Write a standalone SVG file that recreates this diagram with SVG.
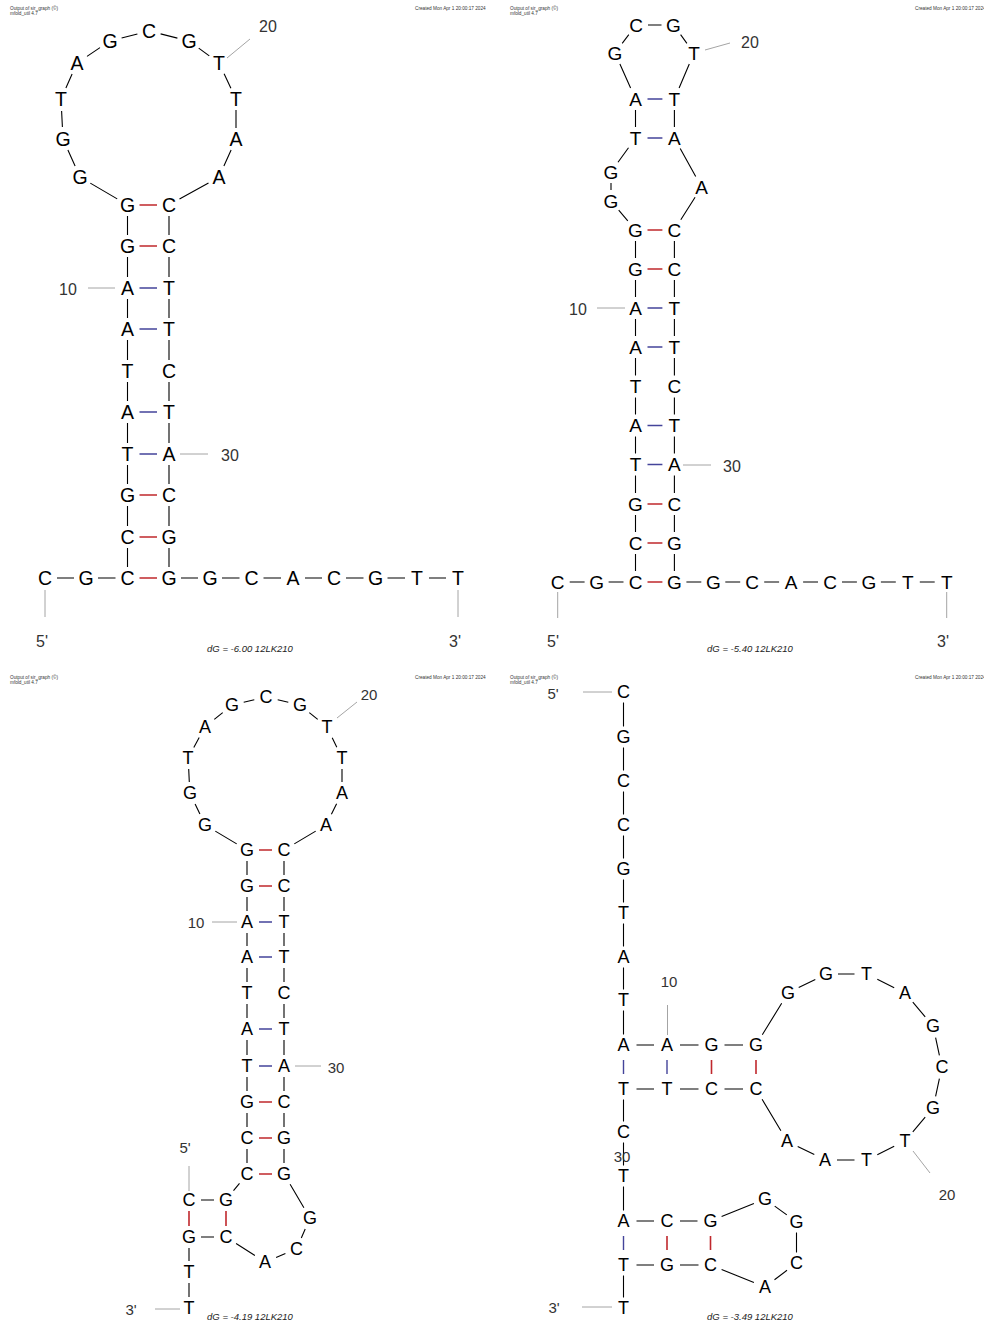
<svg xmlns="http://www.w3.org/2000/svg" width="984" height="1325" viewBox="0 0 984 1325">
<style>
.n{font-family:"Liberation Sans",Arial,sans-serif;text-anchor:middle;dominant-baseline:central;fill:#000}
.s1{font-size:19.5px}.s2{font-size:19px}.s3{font-size:18px}.s4{font-size:18px}
.bb{fill:none;stroke:#000;stroke-width:1.1}
.gc{fill:none;stroke:#c0282d;stroke-width:1.6}
.at{fill:none;stroke:#44449a;stroke-width:1.4}
.ll{stroke:#9a9a9a;stroke-width:0.9}
.lb{font-family:"Liberation Sans",Arial,sans-serif;font-size:16px;fill:#333;text-anchor:middle;dominant-baseline:central}
.lb4{font-size:15px}
.dg{font-family:"Liberation Sans",Arial,sans-serif;font-size:9.5px;font-style:italic;fill:#222;text-anchor:middle;dominant-baseline:central}
.hd{font-family:"Liberation Sans",Arial,sans-serif;font-size:4.7px;fill:#333}
</style>
<rect width="984" height="1325" fill="#fff"/>
<g id="headers">
<text class="hd" x="10" y="10">Output of sir_graph (©)</text><text class="hd" x="10" y="15">mfold_util 4.7</text><text class="hd" x="415" y="10">Created Mon Apr  1 20:00:17 2024</text>
<text class="hd" x="510" y="10">Output of sir_graph (©)</text><text class="hd" x="510" y="15">mfold_util 4.7</text><text class="hd" x="915" y="10">Created Mon Apr  1 20:00:17 2024</text>
<text class="hd" x="10" y="679">Output of sir_graph (©)</text><text class="hd" x="10" y="684">mfold_util 4.7</text><text class="hd" x="415" y="679">Created Mon Apr  1 20:00:17 2024</text>
<text class="hd" x="510" y="679">Output of sir_graph (©)</text><text class="hd" x="510" y="684">mfold_util 4.7</text><text class="hd" x="915" y="679">Created Mon Apr  1 20:00:17 2024</text>
</g>
<g id="connectors">
<path class="bb" d="M57 578H74M98 578H115.5M181 578H198M222 578H239.5M263.5 578H281M305 578H322M346 578H363.5M387.5 578H405M429 578H446
M127.5 567V548M127.5 526V506M127.5 484V465M127.5 443V423M127.5 401V382M127.5 360V340M127.5 318V299M127.5 277V257M127.5 235V216
M169 567V548M169 526V506M169 484V465M169 443V423M169 401V382M169 360V340M169 318V299M169 277V257M169 235V216
M117.2 198.9L90.3 183.1M75.1 166L67.9 150M62.4 127L61.6 111M65.9 88L72.1 74M87 56.4L100 47.6M121.6 38L137.4 34M160.6 33.9L177.4 38.1M198.7 48.1L209.3 55.9M224.1 73.8L230.9 88.2M236 110V128M231.1 150L223.9 166M208.5 182.9L179.5 199.1"/>
<path class="gc" d="M139.5 578H157M139.5 537H157M139.5 495H157M139.5 246H157M139.5 205H157"/>
<path class="at" d="M139.5 454H157M139.5 412H157M139.5 329H157M139.5 288H157"/>
<line class="ll" x1="88" y1="288" x2="115" y2="288"/><line class="ll" x1="227" y1="58" x2="250" y2="39"/><line class="ll" x1="180" y1="454" x2="208" y2="454"/><line class="ll" x1="45" y1="590" x2="45" y2="617"/><line class="ll" x1="458" y1="590" x2="458" y2="617"/>

<path class="bb" d="M569.7 582H584.6M608.6 582H623.5M686.4 582H701.3M725.3 582H740.2M764.2 582H779.1M803.1 582H818M842 582H856.9M880.9 582H895.8M919.8 582H934.7
M635.5 571V554M635.5 532V515M635.5 493V475.5M635.5 453.5V436.5M635.5 414.5V397.5M635.5 375.5V358M635.5 336V319M635.5 297V280M635.5 258V241
M674.4 571V554M674.4 532V515M674.4 493V475.5M674.4 453.5V436.5M674.4 414.5V397.5M674.4 375.5V358M674.4 336V319M674.4 297V280M674.4 258V241
M627.8 220.8L618.7 210.2M611 190V183M618 162.3L628.5 147.7M635.5 127V110M630.6 88L619.9 64M622.2 43.4L628.8 34.6M648 25H661.5M680.6 34.7L686.9 43.3M689.3 64L679.1 88M674.4 110V127M680.2 148.5L695.7 176.5M695.1 197.2L680.8 219.8"/>
<path class="gc" d="M647.5 582H662.4M647.5 543H662.4M647.5 504H662.4M647.5 269H662.4M647.5 230H662.4"/>
<path class="at" d="M647.5 464.5H662.4M647.5 425.5H662.4M647.5 347H662.4M647.5 308H662.4M647.5 138H662.4M647.5 99H662.4"/>
<line class="ll" x1="597" y1="308" x2="625" y2="308"/><line class="ll" x1="705" y1="50" x2="730" y2="43"/><line class="ll" x1="683" y1="465" x2="711" y2="465"/><line class="ll" x1="557.7" y1="592" x2="557.7" y2="618"/><line class="ll" x1="946.7" y1="592" x2="946.7" y2="618"/>

<path class="bb" d="M201 1200H214M233.5 1190.7L239.5 1183.3
M247 1163V1149M247 1127V1113M247 1091V1077M247 1055V1040M247 1018V1004M247 982V968M247 946V933M247 911V897M247 875V861
M284 1163V1149M284 1127V1113M284 1091V1077M284 1055V1040M284 1018V1004M284 982V968M284 946V933M284 911V897M284 875V861
M236.7 843.9L215.3 831.1M199.9 814.1L195.1 803.9M189.3 782L188.7 769M193.8 747.5L199.2 737.5M214.3 719.4L222.7 712.6M243.7 702.3L254.3 699.7M277.7 699.7L288.3 702.3M309.3 712.6L317.7 719.4M332.2 737.8L336.8 747.2M342 769V782M336.6 803.7L331.4 814.3M315.7 831.1L294.3 843.9
M290.1 1184.3L303.9 1207.7M305.2 1229L301.3 1238M285.4 1253.6L276.1 1257.4M254.9 1255.5L236.1 1243.5M214 1237H201M189 1248V1261M189 1283V1297"/>
<path class="gc" d="M259 1174H272M259 1138H272M259 1102H272M259 886H272M259 850H272M189 1211V1226M226 1211V1226"/>
<path class="at" d="M259 1066H272M259 1029H272M259 957H272M259 922H272"/>
<line class="ll" x1="212" y1="922" x2="237" y2="922"/><line class="ll" x1="337" y1="718" x2="357" y2="702"/><line class="ll" x1="295" y1="1066" x2="321" y2="1066"/><line class="ll" x1="189" y1="1166" x2="189" y2="1191"/><line class="ll" x1="155" y1="1309" x2="180" y2="1309"/>

<path class="bb" d="M623.5 702.5V726.5M623.5 747.5V770.5M623.5 791.5V814.5M623.5 835.5V858.5M623.5 879.5V902.5M623.5 923.5V946.5M623.5 967.5V989.5M623.5 1010.5V1034.5
M636.5 1045H654M680 1045H698.5M724.5 1045H743
M762.3 1034.8L781.7 1003.2M798.7 987.6L815.3 979.4M838 974H854.5M877.3 979.3L894.2 987.7M912.8 1002.1L925.2 1016.9M935.6 1037.7L939.4 1055.3M939.4 1078.7L935.6 1096.3M925.2 1117.1L912.8 1131.9M894.2 1146.3L877.3 1154.7M854.5 1160H837M814.3 1154.6L797.7 1146.4M780.9 1130.7L762.1 1099.3
M743 1089H724.5M698.5 1089H680M654 1089H636.5
M623.5 1099.5V1121.5M623.5 1142.5V1165.5M623.5 1186.5V1210.5
M636.5 1221H654M680 1221H697.5M721.6 1216.5L753.9 1203.5M774.7 1206.1L786.8 1214.9M796.5 1232.5V1252.5M787 1270.3L774.5 1279.7M753.9 1282.5L721.6 1269.5M698.5 1265H680M654 1265H636.5M623.5 1275.5V1297.5"/>
<path class="gc" d="M711.5 1060V1074M756 1060V1074M667 1236V1250M710.5 1236V1250"/>
<path class="at" d="M623.5 1060V1074M667 1060V1074M623.5 1236V1250"/>
<line class="ll" x1="667.5" y1="1005" x2="667.5" y2="1035"/><line class="ll" x1="913" y1="1151" x2="930" y2="1173"/><line class="ll" x1="583" y1="692" x2="612" y2="692"/><line class="ll" x1="582" y1="1307" x2="612" y2="1307"/>
</g>
<g id="labels">
<text class="lb" x="68" y="289">10</text><text class="lb" x="268" y="26">20</text><text class="lb" x="230" y="455">30</text><text class="lb" x="42" y="641">5'</text><text class="lb" x="455" y="641">3'</text><text class="dg" x="250" y="648">dG = -6.00 12LK210</text>
<text class="lb" x="578" y="309">10</text><text class="lb" x="750" y="42">20</text><text class="lb" x="732" y="466">30</text><text class="lb" x="553" y="641">5'</text><text class="lb" x="943" y="641">3'</text><text class="dg" x="750" y="648">dG = -5.40 12LK210</text>
<text class="lb lb4" x="196" y="922">10</text><text class="lb lb4" x="369" y="694">20</text><text class="lb lb4" x="336" y="1067">30</text><text class="lb lb4" x="185" y="1147">5'</text><text class="lb lb4" x="131" y="1309">3'</text><text class="dg" x="250" y="1316">dG = -4.19 12LK210</text>
<text class="lb lb4" x="669" y="981">10</text><text class="lb lb4" x="947" y="1194">20</text><text class="lb lb4" x="622" y="1156">30</text><text class="lb lb4" x="553" y="693">5'</text><text class="lb lb4" x="554" y="1307">3'</text><text class="dg" x="750" y="1316">dG = -3.49 12LK210</text>
</g>
<g id="panel1">
<g id="p1n1"><text class="n s1" x="45" y="578">C</text></g>
<g id="p1n2"><text class="n s1" x="86" y="578">G</text></g>
<g id="p1n3"><text class="n s1" x="127.5" y="578">C</text></g>
<g id="p1n4"><text class="n s1" x="127.5" y="537">C</text></g>
<g id="p1n5"><text class="n s1" x="127.5" y="495">G</text></g>
<g id="p1n6"><text class="n s1" x="127.5" y="454">T</text></g>
<g id="p1n7"><text class="n s1" x="127.5" y="412">A</text></g>
<g id="p1n8"><text class="n s1" x="127.5" y="371">T</text></g>
<g id="p1n9"><text class="n s1" x="127.5" y="329">A</text></g>
<g id="p1n10"><text class="n s1" x="127.5" y="288">A</text></g>
<g id="p1n11"><text class="n s1" x="127.5" y="246">G</text></g>
<g id="p1n12"><text class="n s1" x="127.5" y="205">G</text></g>
<g id="p1n13"><text class="n s1" x="80" y="177">G</text></g>
<g id="p1n14"><text class="n s1" x="63" y="139">G</text></g>
<g id="p1n15"><text class="n s1" x="61" y="99">T</text></g>
<g id="p1n16"><text class="n s1" x="77" y="63">A</text></g>
<g id="p1n17"><text class="n s1" x="110" y="41">G</text></g>
<g id="p1n18"><text class="n s1" x="149" y="31">C</text></g>
<g id="p1n19"><text class="n s1" x="189" y="41">G</text></g>
<g id="p1n20"><text class="n s1" x="219" y="63">T</text></g>
<g id="p1n21"><text class="n s1" x="236" y="99">T</text></g>
<g id="p1n22"><text class="n s1" x="236" y="139">A</text></g>
<g id="p1n23"><text class="n s1" x="219" y="177">A</text></g>
<g id="p1n24"><text class="n s1" x="169" y="205">C</text></g>
<g id="p1n25"><text class="n s1" x="169" y="246">C</text></g>
<g id="p1n26"><text class="n s1" x="169" y="288">T</text></g>
<g id="p1n27"><text class="n s1" x="169" y="329">T</text></g>
<g id="p1n28"><text class="n s1" x="169" y="371">C</text></g>
<g id="p1n29"><text class="n s1" x="169" y="412">T</text></g>
<g id="p1n30"><text class="n s1" x="169" y="454">A</text></g>
<g id="p1n31"><text class="n s1" x="169" y="495">C</text></g>
<g id="p1n32"><text class="n s1" x="169" y="537">G</text></g>
<g id="p1n33"><text class="n s1" x="169" y="578">G</text></g>
<g id="p1n34"><text class="n s1" x="210" y="578">G</text></g>
<g id="p1n35"><text class="n s1" x="251.5" y="578">C</text></g>
<g id="p1n36"><text class="n s1" x="293" y="578">A</text></g>
<g id="p1n37"><text class="n s1" x="334" y="578">C</text></g>
<g id="p1n38"><text class="n s1" x="375.5" y="578">G</text></g>
<g id="p1n39"><text class="n s1" x="417" y="578">T</text></g>
<g id="p1n40"><text class="n s1" x="458" y="578">T</text></g>
</g>
<g id="panel2">
<g id="p2n1"><text class="n s2" x="557.7" y="582">C</text></g>
<g id="p2n2"><text class="n s2" x="596.6" y="582">G</text></g>
<g id="p2n3"><text class="n s2" x="635.5" y="582">C</text></g>
<g id="p2n4"><text class="n s2" x="635.5" y="543">C</text></g>
<g id="p2n5"><text class="n s2" x="635.5" y="504">G</text></g>
<g id="p2n6"><text class="n s2" x="635.5" y="464.5">T</text></g>
<g id="p2n7"><text class="n s2" x="635.5" y="425.5">A</text></g>
<g id="p2n8"><text class="n s2" x="635.5" y="386.5">T</text></g>
<g id="p2n9"><text class="n s2" x="635.5" y="347">A</text></g>
<g id="p2n10"><text class="n s2" x="635.5" y="308">A</text></g>
<g id="p2n11"><text class="n s2" x="635.5" y="269">G</text></g>
<g id="p2n12"><text class="n s2" x="635.5" y="230">G</text></g>
<g id="p2n13"><text class="n s2" x="611" y="201">G</text></g>
<g id="p2n14"><text class="n s2" x="611" y="172">G</text></g>
<g id="p2n15"><text class="n s2" x="635.5" y="138">T</text></g>
<g id="p2n16"><text class="n s2" x="635.5" y="99">A</text></g>
<g id="p2n17"><text class="n s2" x="615" y="53">G</text></g>
<g id="p2n18"><text class="n s2" x="636" y="25">C</text></g>
<g id="p2n19"><text class="n s2" x="673.5" y="25">G</text></g>
<g id="p2n20"><text class="n s2" x="694" y="53">T</text></g>
<g id="p2n21"><text class="n s2" x="674.4" y="99">T</text></g>
<g id="p2n22"><text class="n s2" x="674.4" y="138">A</text></g>
<g id="p2n23"><text class="n s2" x="701.5" y="187">A</text></g>
<g id="p2n24"><text class="n s2" x="674.4" y="230">C</text></g>
<g id="p2n25"><text class="n s2" x="674.4" y="269">C</text></g>
<g id="p2n26"><text class="n s2" x="674.4" y="308">T</text></g>
<g id="p2n27"><text class="n s2" x="674.4" y="347">T</text></g>
<g id="p2n28"><text class="n s2" x="674.4" y="386.5">C</text></g>
<g id="p2n29"><text class="n s2" x="674.4" y="425.5">T</text></g>
<g id="p2n30"><text class="n s2" x="674.4" y="464.5">A</text></g>
<g id="p2n31"><text class="n s2" x="674.4" y="504">C</text></g>
<g id="p2n32"><text class="n s2" x="674.4" y="543">G</text></g>
<g id="p2n33"><text class="n s2" x="674.4" y="582">G</text></g>
<g id="p2n34"><text class="n s2" x="713.3" y="582">G</text></g>
<g id="p2n35"><text class="n s2" x="752.2" y="582">C</text></g>
<g id="p2n36"><text class="n s2" x="791.1" y="582">A</text></g>
<g id="p2n37"><text class="n s2" x="830" y="582">C</text></g>
<g id="p2n38"><text class="n s2" x="868.9" y="582">G</text></g>
<g id="p2n39"><text class="n s2" x="907.8" y="582">T</text></g>
<g id="p2n40"><text class="n s2" x="946.7" y="582">T</text></g>
</g>
<g id="panel3">
<g id="p3n1"><text class="n s3" x="189" y="1200">C</text></g>
<g id="p3n2"><text class="n s3" x="226" y="1200">G</text></g>
<g id="p3n3"><text class="n s3" x="247" y="1174">C</text></g>
<g id="p3n4"><text class="n s3" x="247" y="1138">C</text></g>
<g id="p3n5"><text class="n s3" x="247" y="1102">G</text></g>
<g id="p3n6"><text class="n s3" x="247" y="1066">T</text></g>
<g id="p3n7"><text class="n s3" x="247" y="1029">A</text></g>
<g id="p3n8"><text class="n s3" x="247" y="993">T</text></g>
<g id="p3n9"><text class="n s3" x="247" y="957">A</text></g>
<g id="p3n10"><text class="n s3" x="247" y="922">A</text></g>
<g id="p3n11"><text class="n s3" x="247" y="886">G</text></g>
<g id="p3n12"><text class="n s3" x="247" y="850">G</text></g>
<g id="p3n13"><text class="n s3" x="205" y="825">G</text></g>
<g id="p3n14"><text class="n s3" x="190" y="793">G</text></g>
<g id="p3n15"><text class="n s3" x="188" y="758">T</text></g>
<g id="p3n16"><text class="n s3" x="205" y="727">A</text></g>
<g id="p3n17"><text class="n s3" x="232" y="705">G</text></g>
<g id="p3n18"><text class="n s3" x="266" y="697">C</text></g>
<g id="p3n19"><text class="n s3" x="300" y="705">G</text></g>
<g id="p3n20"><text class="n s3" x="327" y="727">T</text></g>
<g id="p3n21"><text class="n s3" x="342" y="758">T</text></g>
<g id="p3n22"><text class="n s3" x="342" y="793">A</text></g>
<g id="p3n23"><text class="n s3" x="326" y="825">A</text></g>
<g id="p3n24"><text class="n s3" x="284" y="850">C</text></g>
<g id="p3n25"><text class="n s3" x="284" y="886">C</text></g>
<g id="p3n26"><text class="n s3" x="284" y="922">T</text></g>
<g id="p3n27"><text class="n s3" x="284" y="957">T</text></g>
<g id="p3n28"><text class="n s3" x="284" y="993">C</text></g>
<g id="p3n29"><text class="n s3" x="284" y="1029">T</text></g>
<g id="p3n30"><text class="n s3" x="284" y="1066">A</text></g>
<g id="p3n31"><text class="n s3" x="284" y="1102">C</text></g>
<g id="p3n32"><text class="n s3" x="284" y="1138">G</text></g>
<g id="p3n33"><text class="n s3" x="284" y="1174">G</text></g>
<g id="p3n34"><text class="n s3" x="310" y="1218">G</text></g>
<g id="p3n35"><text class="n s3" x="296.5" y="1249">C</text></g>
<g id="p3n36"><text class="n s3" x="265" y="1262">A</text></g>
<g id="p3n37"><text class="n s3" x="226" y="1237">C</text></g>
<g id="p3n38"><text class="n s3" x="189" y="1237">G</text></g>
<g id="p3n39"><text class="n s3" x="189" y="1272">T</text></g>
<g id="p3n40"><text class="n s3" x="189" y="1308">T</text></g>
</g>
<g id="panel4">
<g id="p4n1"><text class="n s4" x="623.5" y="692">C</text></g>
<g id="p4n2"><text class="n s4" x="623.5" y="737">G</text></g>
<g id="p4n3"><text class="n s4" x="623.5" y="781">C</text></g>
<g id="p4n4"><text class="n s4" x="623.5" y="825">C</text></g>
<g id="p4n5"><text class="n s4" x="623.5" y="869">G</text></g>
<g id="p4n6"><text class="n s4" x="623.5" y="913">T</text></g>
<g id="p4n7"><text class="n s4" x="623.5" y="957">A</text></g>
<g id="p4n8"><text class="n s4" x="623.5" y="1000">T</text></g>
<g id="p4n9"><text class="n s4" x="623.5" y="1045">A</text></g>
<g id="p4n10"><text class="n s4" x="667" y="1045">A</text></g>
<g id="p4n11"><text class="n s4" x="711.5" y="1045">G</text></g>
<g id="p4n12"><text class="n s4" x="756" y="1045">G</text></g>
<g id="p4n13"><text class="n s4" x="788" y="993">G</text></g>
<g id="p4n14"><text class="n s4" x="826" y="974">G</text></g>
<g id="p4n15"><text class="n s4" x="866.5" y="974">T</text></g>
<g id="p4n16"><text class="n s4" x="905" y="993">A</text></g>
<g id="p4n17"><text class="n s4" x="933" y="1026">G</text></g>
<g id="p4n18"><text class="n s4" x="942" y="1067">C</text></g>
<g id="p4n19"><text class="n s4" x="933" y="1108">G</text></g>
<g id="p4n20"><text class="n s4" x="905" y="1141">T</text></g>
<g id="p4n21"><text class="n s4" x="866.5" y="1160">T</text></g>
<g id="p4n22"><text class="n s4" x="825" y="1160">A</text></g>
<g id="p4n23"><text class="n s4" x="787" y="1141">A</text></g>
<g id="p4n24"><text class="n s4" x="756" y="1089">C</text></g>
<g id="p4n25"><text class="n s4" x="711.5" y="1089">C</text></g>
<g id="p4n26"><text class="n s4" x="667" y="1089">T</text></g>
<g id="p4n27"><text class="n s4" x="623.5" y="1089">T</text></g>
<g id="p4n28"><text class="n s4" x="623.5" y="1132">C</text></g>
<g id="p4n29"><text class="n s4" x="623.5" y="1176">T</text></g>
<g id="p4n30"><text class="n s4" x="623.5" y="1221">A</text></g>
<g id="p4n31"><text class="n s4" x="667" y="1221">C</text></g>
<g id="p4n32"><text class="n s4" x="710.5" y="1221">G</text></g>
<g id="p4n33"><text class="n s4" x="765" y="1199">G</text></g>
<g id="p4n34"><text class="n s4" x="796.5" y="1222">G</text></g>
<g id="p4n35"><text class="n s4" x="796.5" y="1263">C</text></g>
<g id="p4n36"><text class="n s4" x="765" y="1287">A</text></g>
<g id="p4n37"><text class="n s4" x="710.5" y="1265">C</text></g>
<g id="p4n38"><text class="n s4" x="667" y="1265">G</text></g>
<g id="p4n39"><text class="n s4" x="623.5" y="1265">T</text></g>
<g id="p4n40"><text class="n s4" x="623.5" y="1308">T</text></g>
</g>
</svg>
